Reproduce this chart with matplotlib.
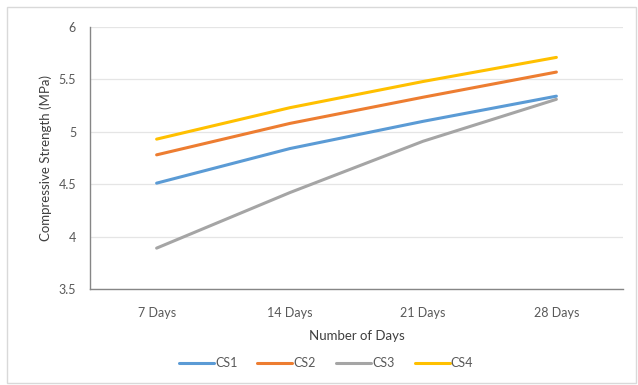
import matplotlib.pyplot as plt
from matplotlib.patches import Rectangle

plt.rcParams['font.family'] = ['Lato', 'DejaVu Sans']

days = ['7 Days', '14 Days', '21 Days', '28 Days']
cs1 = [4.51, 4.84, 5.10, 5.34]
cs2 = [4.78, 5.08, 5.33, 5.57]
cs3 = [3.89, 4.42, 4.91, 5.31]
cs4 = [4.93, 5.23, 5.48, 5.71]
series = [('CS1', cs1, '#5B9BD5'), ('CS2', cs2, '#ED7D31'),
          ('CS3', cs3, '#A5A5A5'), ('CS4', cs4, '#FFC000')]
yticks = [3.5, 4, 4.5, 5, 5.5, 6]

fig = plt.figure(figsize=(6.38, 3.85), dpi=100)
fig.patches.append(Rectangle((7/638, 2/385), 629/638, 376/385, transform=fig.transFigure,
                             fill=False, edgecolor='#D9D9D9', linewidth=1))
ax = fig.add_axes([90/638, 1 - 289/385, 533/638, 262/385])

x = list(range(len(days)))
for name, vals, col in series:
    ax.plot(x, vals, color=col, linewidth=2.2, label=name, solid_capstyle='round')

ax.set_xlim(-0.5, 3.5)
ax.set_ylim(3.5, 6)
ax.set_xticks(x)
ax.set_xticklabels(days)
ax.set_yticks(yticks)
ax.set_yticklabels(['3.5', '4', '4.5', '5', '5.5', '6'])
ax.grid(axis='y', color='#E5E5E5', linewidth=0.9)
ax.set_axisbelow(True)
for s in ['top', 'right']:
    ax.spines[s].set_visible(False)
for s in ['left', 'bottom']:
    ax.spines[s].set_color('#868686')
    ax.spines[s].set_linewidth(1.0)
ax.tick_params(axis='y', length=0, labelsize=9, colors='#595959', pad=10)
ax.tick_params(axis='x', length=0, labelsize=9, colors='#595959', pad=13)
ax.set_xlabel('Number of Days', fontsize=9.5, color='#404040', labelpad=8)
ax.set_ylabel('Compressive Strength (MPa)', fontsize=9.5, color='#404040', labelpad=5)

fig.legend(*ax.get_legend_handles_labels(), loc='center', bbox_to_anchor=(326/638, 1 - 363/385),
           ncol=4, frameon=False, fontsize=9, handlelength=2.8, columnspacing=1.6,
           handletextpad=0.1, labelcolor='#595959')

fig.savefig('out.png', dpi=100)
